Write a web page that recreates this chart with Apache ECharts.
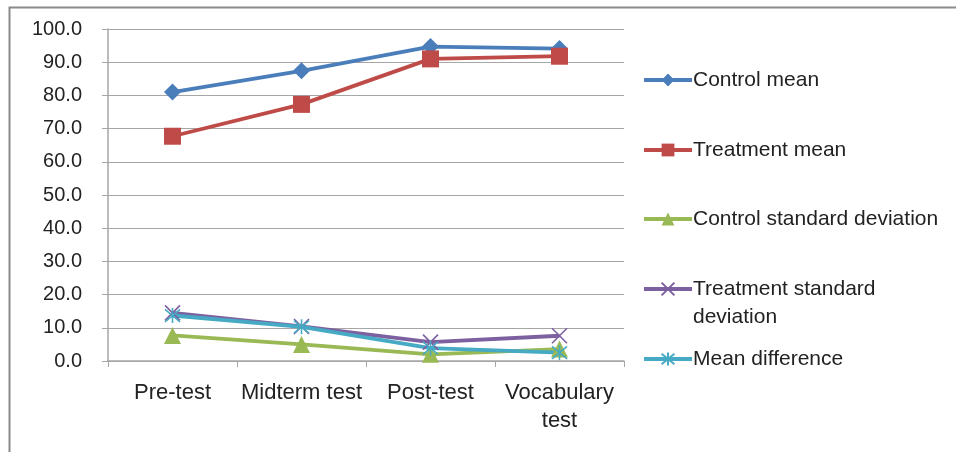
<!DOCTYPE html>
<html>
<head>
<meta charset="utf-8">
<script src="https://cdn.jsdelivr.net/npm/echarts@6/dist/echarts.min.js"></script>
<style>
  html, body { margin: 0; padding: 0; background: #fff; }
  #chart { width: 956px; height: 452px; }
</style>
</head>
<body>
<div id="chart"></div>
<script>
var categories = ['Pre-test', 'Midterm test', 'Post-test', 'Vocabulary\ntest']
var controlMean = [81.0, 87.4, 94.7, 94.1]
var treatmentMean = [67.7, 77.3, 91.0, 91.8]
var controlSd = [7.7, 5.0, 2.0, 3.6]
var treatmentSd = [14.5, 10.4, 5.7, 7.6]
var meanDiff = [13.7, 10.3, 3.9, 2.5]

var font = 'Liberation Sans'
var xMark = 'path://M0,0L10,10M10,0L0,10'
var starMark = 'path://M0,0L10,10M10,0L0,10M5,-1L5,11'

function mkSeries (name, data, color, symbol, size, stroke) {
  return {
    name: name,
    type: 'line',
    data: data,
    symbol: symbol,
    symbolSize: size,
    showAllSymbol: true,
    lineStyle: { color: color, width: 3.8 },
    itemStyle: stroke
      ? { color: color, borderColor: color, borderWidth: 1.6 }
      : { color: color },
    emphasis: { disabled: true },
    z: 3
  }
}

function mkLegend (name, top, label) {
  return {
    data: [name],
    left: 642,
    top: top,
    padding: 0,
    orient: 'vertical',
    itemWidth: 48,
    itemHeight: 16,
    itemGap: 0,
    selectedMode: false,
    lineStyle: { width: 4 },
    formatter: label ? function () { return label } : '{name}',
    textStyle: { fontFamily: font, fontSize: 21, color: '#222', lineHeight: 28, padding: [0, 0, 0, -4] }
  }
}

var chart = echarts.init(document.getElementById('chart'))
chart.setOption({
  animation: false,
  grid: { left: 108, right: 332, top: 29, bottom: 91 },
  graphic: [{
    type: 'polyline',
    shape: { points: [[9.5, 470], [9.5, 7.5], [960, 7.5]] },
    style: { stroke: '#8a8a8a', lineWidth: 2, fill: null },
    silent: true
  }, {
    // second line of the wrapped legend label
    type: 'text',
    left: 693,
    top: 307,
    style: { text: 'deviation', fontFamily: font, fontSize: 21, fill: '#222' },
    silent: true
  }],
  legend: [
    mkLegend('Control mean', 66),
    mkLegend('Treatment mean', 136),
    mkLegend('Control standard deviation', 205),
    mkLegend('Treatment standard deviation', 275, 'Treatment standard'),
    mkLegend('Mean difference', 345)
  ],
  xAxis: {
    type: 'category',
    data: categories,
    boundaryGap: true,
    axisLine: { lineStyle: { color: '#a6a6a6', width: 1.5 } },
    axisTick: { show: true, length: 6, lineStyle: { color: '#a6a6a6' } },
    axisLabel: { fontFamily: font, fontSize: 22, color: '#222', margin: 18, lineHeight: 28, interval: 0 }
  },
  yAxis: {
    type: 'value',
    min: 0,
    max: 100,
    interval: 10,
    axisLine: { show: true, lineStyle: { color: '#a6a6a6', width: 1.5 } },
    axisTick: { show: true, length: 6, lineStyle: { color: '#a6a6a6' } },
    axisLabel: {
      fontFamily: font, fontSize: 20, color: '#222', margin: 26,
      formatter: function (v) { return v.toFixed(1) }
    },
    splitLine: { lineStyle: { color: '#a6a6a6', width: 1.2 } }
  },
  series: [
    mkSeries('Control mean', controlMean, '#4a7ebb', 'diamond', 17),
    mkSeries('Treatment mean', treatmentMean, '#be4b48', 'rect', 17),
    mkSeries('Control standard deviation', controlSd, '#98b954', 'triangle', 17),
    mkSeries('Treatment standard deviation', treatmentSd, '#7d60a0', xMark, 15, true),
    mkSeries('Mean difference', meanDiff, '#46aac5', starMark, 15, true)
  ]
})
</script>
</body>
</html>
